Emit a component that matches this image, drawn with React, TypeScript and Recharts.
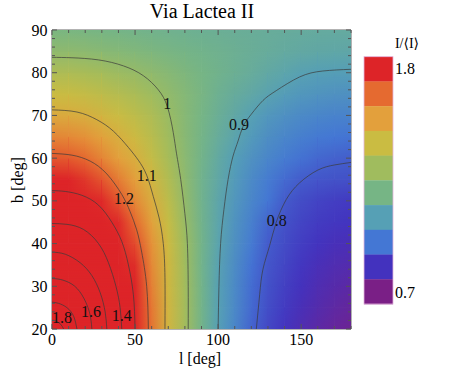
import React from "react"
import { ScatterChart, Scatter, XAxis, YAxis, ReferenceArea } from "recharts"

// grid nodes: l every 10 deg, b every 5 deg
const L_NODES = [0, 10, 20, 30, 40, 50, 60, 70, 80, 90, 100, 110, 120, 130, 140, 150, 160, 170, 180]

// I/<I> read along each b row, one value per l node
const row20 = [1.88, 1.76, 1.64, 1.53, 1.42, 1.3, 1.18, 1.085, 1.015, 0.955, 0.9, 0.855, 0.81, 0.782, 0.762, 0.746, 0.733, 0.722, 0.715]
const row25 = [1.75, 1.68, 1.61, 1.51, 1.41, 1.295, 1.175, 1.085, 1.015, 0.955, 0.902, 0.86, 0.817, 0.788, 0.769, 0.753, 0.741, 0.731, 0.724]
const row30 = [1.63, 1.6, 1.54, 1.47, 1.375, 1.27, 1.165, 1.08, 1.013, 0.955, 0.902, 0.862, 0.82, 0.792, 0.774, 0.759, 0.747, 0.739, 0.733]
const row35 = [1.55, 1.53, 1.48, 1.42, 1.34, 1.25, 1.155, 1.08, 1.01, 0.953, 0.905, 0.866, 0.826, 0.797, 0.78, 0.765, 0.754, 0.746, 0.742]
const row40 = [1.47, 1.45, 1.42, 1.365, 1.3, 1.22, 1.145, 1.075, 1.007, 0.955, 0.91, 0.872, 0.837, 0.803, 0.786, 0.772, 0.762, 0.755, 0.752]
const row45 = [1.395, 1.38, 1.355, 1.32, 1.255, 1.19, 1.125, 1.063, 1.0, 0.952, 0.913, 0.877, 0.845, 0.812, 0.792, 0.779, 0.77, 0.765, 0.762]
const row50 = [1.33, 1.32, 1.3, 1.255, 1.21, 1.155, 1.105, 1.05, 0.994, 0.95, 0.915, 0.884, 0.855, 0.83, 0.802, 0.787, 0.778, 0.772, 0.768]
const row55 = [1.27, 1.26, 1.24, 1.21, 1.17, 1.13, 1.085, 1.035, 0.99, 0.95, 0.92, 0.891, 0.862, 0.838, 0.818, 0.803, 0.797, 0.793, 0.791]
const row60 = [1.21, 1.205, 1.19, 1.16, 1.13, 1.1, 1.06, 1.02, 0.985, 0.955, 0.925, 0.898, 0.875, 0.855, 0.838, 0.825, 0.815, 0.809, 0.805]
const row65 = [1.16, 1.155, 1.145, 1.125, 1.1, 1.075, 1.045, 1.01, 0.982, 0.958, 0.933, 0.911, 0.889, 0.87, 0.855, 0.843, 0.835, 0.83, 0.827]
const row70 = [1.11, 1.106, 1.099, 1.085, 1.068, 1.05, 1.03, 1.003, 0.98, 0.96, 0.94, 0.921, 0.902, 0.885, 0.872, 0.862, 0.855, 0.851, 0.85]
const row75 = [1.07, 1.067, 1.06, 1.05, 1.038, 1.025, 1.008, 0.993, 0.978, 0.963, 0.945, 0.932, 0.92, 0.907, 0.895, 0.885, 0.879, 0.875, 0.873]
const row80 = [1.03, 1.028, 1.022, 1.015, 1.005, 0.998, 0.99, 0.98, 0.97, 0.96, 0.951, 0.942, 0.933, 0.923, 0.913, 0.904, 0.899, 0.897, 0.896]
const row85 = [0.99, 0.989, 0.986, 0.982, 0.978, 0.973, 0.968, 0.963, 0.958, 0.953, 0.948, 0.943, 0.938, 0.933, 0.928, 0.924, 0.921, 0.919, 0.918]
const row90 = [0.965, 0.964, 0.962, 0.96, 0.957, 0.954, 0.951, 0.948, 0.945, 0.942, 0.94, 0.938, 0.936, 0.934, 0.932, 0.93, 0.929, 0.928, 0.928]

const ROWS: [number, number[]][] = [
  [20, row20], [25, row25], [30, row30], [35, row35], [40, row40],
  [45, row45], [50, row50], [55, row55], [60, row60], [65, row65],
  [70, row70], [75, row75], [80, row80], [85, row85], [90, row90],
]

// contour lines, [l, b] points
const c080 = [[123, 20], [125, 28], [127, 34], [131, 39.5], [135, 45], [141, 50.3], [149, 54.2], [160, 57.2], [170, 58.4], [180, 59]]
const c090 = [[100, 20], [100.5, 30], [101.5, 40], [103.5, 48], [106, 55], [109, 60.5], [112, 64], [115, 67.4], [120, 70.3], [127, 73.5], [135, 75.8], [149, 79], [163, 80.4], [180, 80.8]]
const c100 = [[82, 20], [82, 30], [81.5, 40], [80, 47], [77.5, 55], [75, 61], [73, 66], [69.5, 72], [64, 76], [55, 79.3], [43, 81.6], [28, 83], [12, 83.5], [0, 83.6]]
const c110 = [[68, 20], [68, 32], [67, 40], [64.5, 46], [61, 51], [57, 56], [52, 59.5], [46, 62.5], [37, 66.3], [27, 69], [15, 70.8], [0, 71.3]]
const c120 = [[58, 20], [57, 30], [54, 38], [51, 43.2], [47, 47.5], [42, 51.5], [33, 56.3], [23, 59.3], [12, 60.7], [0, 61.1]]
const c130 = [[50, 20], [49, 28], [46, 35], [42, 40.5], [36, 45], [28, 49], [18, 51.3], [8, 52.2], [0, 52.4]]
const c140 = [[42, 20], [41, 25], [38.5, 30], [34, 35.5], [28, 40], [19, 43.3], [9, 44.5], [0, 44.7]]
const c150 = [[33, 20], [32, 24], [29, 28.5], [24, 32.5], [17, 35.5], [8, 37.5], [0, 38]]
const c160 = [[24, 20], [22.5, 24], [18, 28], [12, 30.5], [5, 31.6], [0, 31.8]]
const c170 = [[15, 20], [13, 23], [9, 25], [4, 26], [0, 26.3]]
const c180 = [[7, 20], [5, 21.2], [2, 21.9], [0, 22]]
const CONTOURS = [c080, c090, c100, c110, c120, c130, c140, c150, c160, c170, c180]

const contourLabels = [
  { l: 6, b: 22.6, t: "1.8" },
  { l: 23.5, b: 24.2, t: "1.6" },
  { l: 42, b: 23.3, t: "1.4" },
  { l: 43.3, b: 50.6, t: "1.2" },
  { l: 57, b: 56, t: "1.1" },
  { l: 69.4, b: 72.7, t: "1" },
  { l: 112.5, b: 67.8, t: "0.9" },
  { l: 135.3, b: 45.5, t: "0.8" },
]

const X_TICKS = [0, 10, 20, 30, 40, 50, 60, 70, 80, 90, 100, 110, 120, 130, 140, 150, 160, 170, 180]
const X_LABELS = [0, 50, 100, 150]
const Y_TICKS = [20, 22, 24, 26, 28, 30, 32, 34, 36, 38, 40, 42, 44, 46, 48, 50, 52, 54, 56, 58, 60, 62, 64, 66, 68, 70, 72, 74, 76, 78, 80, 82, 84, 86, 88, 90]
const Y_LABELS = [20, 30, 40, 50, 60, 70, 80, 90]

const legendColors = ["#DD2428", "#E56A30", "#E3A03C", "#CABC42", "#A0BC5E", "#76B585", "#56A0B5", "#4477D4", "#4332BE", "#7A1F86"]

// colour map of the density plot
const STOPS: [number, string][] = [
  [0.7, "#7A1F86"], [0.76, "#4332BE"], [0.83, "#4477D4"], [0.9, "#56A0B5"], [0.96, "#76B585"],
  [1.01, "#A0BC5E"], [1.07, "#CABC42"], [1.13, "#E3A03C"], [1.19, "#E56A30"], [1.26, "#DD2428"],
]

const hex = (c: string) => [1, 3, 5].map((i) => parseInt(c.slice(i, i + 2), 16))

function colorOf(v: number) {
  if (v <= STOPS[0][0]) return STOPS[0][1]
  for (let i = 1; i < STOPS.length; i++) {
    if (v <= STOPS[i][0]) {
      const [v0, c0] = STOPS[i - 1]
      const [v1, c1] = STOPS[i]
      const t = (v - v0) / (v1 - v0)
      const a = hex(c0), b = hex(c1)
      return `rgb(${a.map((x, k) => Math.round(x + (b[k] - x) * t)).join(",")})`
    }
  }
  return STOPS[STOPS.length - 1][1]
}

const W = 464
const H = 383
const PLOT_LEFT = 52
const PLOT_RIGHT = 351
const PLOT_TOP = 30
const PLOT_BOTTOM = 329
const CELL_W = ((PLOT_RIGHT - PLOT_LEFT) * 10) / 180
const CELL_H = ((PLOT_BOTTOM - PLOT_TOP) * 5) / 70
const FONT = '"Liberation Serif", "Times New Roman", serif'
const TICK_COLOR = "#555"

// one cell between four grid nodes, anchored at its lower-left node
const heatCells = ROWS.slice(0, -1).flatMap(([b, vals], j) =>
  L_NODES.slice(0, -1).map((l, i) => ({
    l,
    b,
    bl: vals[i],
    br: vals[i + 1],
    tl: ROWS[j + 1][1][i],
    tr: ROWS[j + 1][1][i + 1],
  }))
)

function HeatCell(props: any) {
  const { cx, cy, payload } = props
  const id = `hc-${payload.l}-${payload.b}`
  const first = payload.l === 0 && payload.b === 20
  const x = cx - 0.3
  const y = cy - CELL_H - 0.3
  const w = CELL_W + 0.6
  const h = CELL_H + 0.6
  return (
    <g>
      <defs>
        {first && (
          <>
            <linearGradient id="vfade-g" x1="0" x2="0" y1="0" y2="1">
              <stop offset="0" stopColor="#fff" />
              <stop offset="1" stopColor="#000" />
            </linearGradient>
            <mask id="vfade" maskUnits="objectBoundingBox" maskContentUnits="objectBoundingBox" x="0" y="0" width="1" height="1">
              <rect x="0" y="0" width="1" height="1" fill="url(#vfade-g)" />
            </mask>
          </>
        )}
        <linearGradient id={`${id}-b`} x1="0" x2="1" y1="0" y2="0">
          <stop offset="0" stopColor={colorOf(payload.bl)} />
          <stop offset="1" stopColor={colorOf(payload.br)} />
        </linearGradient>
        <linearGradient id={`${id}-t`} x1="0" x2="1" y1="0" y2="0">
          <stop offset="0" stopColor={colorOf(payload.tl)} />
          <stop offset="1" stopColor={colorOf(payload.tr)} />
        </linearGradient>
      </defs>
      <rect x={x} y={y} width={w} height={h} fill={`url(#${id}-b)`} />
      <rect x={x} y={y} width={w} height={h} fill={`url(#${id}-t)`} mask="url(#vfade)" />
    </g>
  )
}

function BottomTick(props: any) {
  const { x, payload } = props
  const major = X_LABELS.includes(payload.value)
  const len = major ? 5 : 3
  return (
    <g>
      <line x1={x} x2={x} y1={PLOT_BOTTOM} y2={PLOT_BOTTOM - len} stroke={TICK_COLOR} />
      <line x1={x} x2={x} y1={PLOT_TOP} y2={PLOT_TOP + len} stroke={TICK_COLOR} />
      {major && (
        <text x={x} y={PLOT_BOTTOM + 16} textAnchor="middle" fontSize={16} fontFamily={FONT} fill="#000">
          {payload.value}
        </text>
      )}
    </g>
  )
}

function LeftTick(props: any) {
  const { y, payload } = props
  const major = Y_LABELS.includes(payload.value)
  const len = major ? 5 : 3
  return (
    <g>
      <line x1={PLOT_LEFT} x2={PLOT_LEFT + len} y1={y} y2={y} stroke={TICK_COLOR} />
      <line x1={PLOT_RIGHT} x2={PLOT_RIGHT - len} y1={y} y2={y} stroke={TICK_COLOR} />
      {major && (
        <text x={PLOT_LEFT - 4.5} y={y} dy="0.35em" textAnchor="end" fontSize={16} fontFamily={FONT} fill="#000">
          {payload.value}
        </text>
      )}
    </g>
  )
}

export default function App() {
  const binH = (304 - 56.7) / legendColors.length
  return (
    <div style={{ position: "absolute", left: 0, top: 0, width: W, height: H, background: "#fff" }}>
      <ScatterChart width={W} height={H} margin={{ top: PLOT_TOP, right: W - PLOT_RIGHT, bottom: 30, left: 12 }}>
        <Scatter data={heatCells} shape={HeatCell} isAnimationActive={false} />
        {CONTOURS.map((c, i) => (
          <Scatter
            key={i}
            data={c.map(([l, b]) => ({ l, b }))}
            line={{ stroke: "#3a3a3a", strokeWidth: 1, strokeOpacity: 0.7 }}
            lineJointType="natural"
            shape={() => <g />}
            isAnimationActive={false}
          />
        ))}
        <Scatter
          data={contourLabels}
          shape={(p: any) => (
            <text x={p.cx} y={p.cy} dy="0.35em" textAnchor="middle" fontSize={16} fontFamily={FONT} fill="#111">
              {p.payload.t}
            </text>
          )}
          isAnimationActive={false}
        />
        <ReferenceArea x1={0} x2={180} y1={20} y2={90} fill="none" fillOpacity={0} stroke="#666" strokeWidth={1} />
        <XAxis
          dataKey="l"
          type="number"
          domain={[0, 180]}
          allowDataOverflow
          ticks={X_TICKS}
          interval={0}
          tickLine={false}
          axisLine={false}
          tick={(p: any) => <BottomTick {...p} />}
          height={24}
        />
        <YAxis
          dataKey="b"
          type="number"
          domain={[20, 90]}
          allowDataOverflow
          ticks={Y_TICKS}
          interval={0}
          tickLine={false}
          axisLine={false}
          tick={(p: any) => <LeftTick {...p} />}
          width={40}
        />
      </ScatterChart>
      <svg width={W} height={H} style={{ position: "absolute", left: 0, top: 0, pointerEvents: "none" }}>
        <text x={202} y={18} textAnchor="middle" fontSize={20} fontFamily={FONT} fill="#000">
          Via Lactea II
        </text>
        <text x={200} y={364} textAnchor="middle" fontSize={16} fontFamily={FONT} fill="#000">
          l [deg]
        </text>
        <text x={23} y={180} textAnchor="middle" fontSize={16} fontFamily={FONT} fill="#000" transform="rotate(-90 23 180)">
          b [deg]
        </text>
        <text x={407} y={48} textAnchor="middle" fontSize={14} fontFamily={'"Liberation Serif", "DejaVu Serif", serif'} fill="#000">
          I/⟨I⟩
        </text>
        {legendColors.map((c, i) => (
          <rect key={c} x={364} y={56.7 + i * binH} width={29} height={binH + 0.3} fill={c} />
        ))}
        <rect x={364} y={56.7} width={29} height={304 - 56.7} fill="none" stroke="#e3b4dc" strokeWidth={0.8} />
        <text x={395} y={68.3} dy="0.35em" fontSize={16} fontFamily={FONT} fill="#000">
          1.8
        </text>
        <text x={395} y={292.5} dy="0.35em" fontSize={16} fontFamily={FONT} fill="#000">
          0.7
        </text>
      </svg>
    </div>
  )
}
